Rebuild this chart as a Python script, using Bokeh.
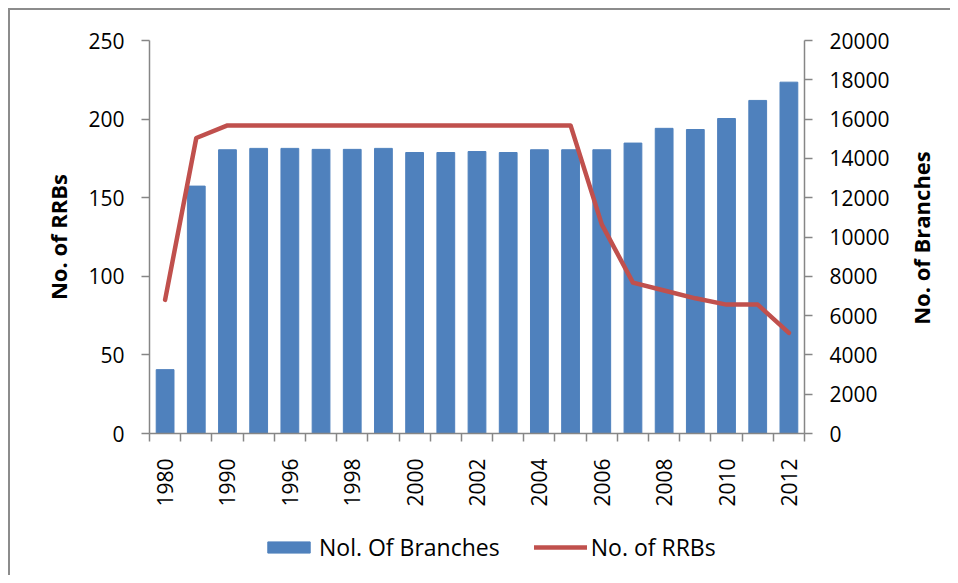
import math
import numpy as np
from bokeh.plotting import figure
from bokeh.layouts import column, row
from bokeh.models import (Range1d, LinearAxis, FixedTicker, SingleIntervalTicker,
                          Legend, ColumnDataSource, Label)
from bokeh.embed import file_html
from bokeh.resources import INLINE

years = ["1980", "1985", "1990", "1995", "1996", "1997", "1998", "1999", "2000", "2001",
         "2002", "2003", "2004", "2005", "2006", "2007", "2008", "2009", "2010", "2011", "2012"]
branches = [3250, 12590, 14440, 14510, 14510, 14460, 14460, 14510, 14300, 14300,
            14350, 14300, 14440, 14440, 14440, 14780, 15530, 15470, 16030, 16950, 17880]
rrbs = [85, 188, 196, 196, 196, 196, 196, 196, 196, 196,
        196, 196, 196, 196, 133, 96, 91, 86, 82, 82, 64]
left_ticks = [0, 50, 100, 150, 200, 250]
right_max = 20000

FONT = "Open Sans"
AX = "#868686"
BAR_C = "#4F81BD"
LINE_C = "#C0504D"

n = len(years)
xc = np.arange(n) + 0.5
src = ColumnDataSource(dict(x=xc, year=years, branches=branches, rrbs=rrbs))

FW, FH = 655, 393
ML, MR, MT, MB = 139, 96, 30, 80
PW, PH = ML + FW + MR, MT + FH + MB
TW = 50                      # strip holding the secondary-axis title
LH = 565 - PH                # strip holding the legend

p = figure(width=PW, height=PH, output_backend="svg", toolbar_location=None,
           x_range=Range1d(0, n), y_range=Range1d(0, left_ticks[-1]),
           frame_width=FW, frame_height=FH,
           min_border_left=ML, min_border_right=MR, min_border_top=MT, min_border_bottom=MB,
           x_axis_location=None, y_axis_location=None)
p.extra_y_ranges = {"right": Range1d(0, right_max)}
p.outline_line_color = None
p.xgrid.visible = False
p.ygrid.visible = False

bars = p.vbar(x="x", top="branches", width=0.57, source=src, y_range_name="right",
              fill_color=BAR_C, line_color=BAR_C)
line = p.line(x="x", y="rrbs", source=src, line_color=LINE_C, line_width=4.5,
              line_join="round", line_cap="round")

def style_axis(ax):
    ax.axis_line_color = AX
    ax.axis_line_width = 1.5
    ax.major_tick_line_color = AX
    ax.major_tick_line_width = 1.5
    ax.minor_tick_line_color = AX
    ax.minor_tick_line_width = 1.5
    ax.major_tick_in = 0
    ax.major_tick_out = 8
    ax.minor_tick_in = 0
    ax.minor_tick_out = 0
    ax.major_label_text_font = FONT
    ax.major_label_text_font_size = "21px"
    ax.major_label_text_color = "black"
    ax.axis_label_text_font = FONT
    ax.axis_label_text_font_size = "22px"
    ax.axis_label_text_font_style = "bold"
    ax.axis_label_text_color = "black"

# x axis: labels under every other bar, tick marks between categories
xax = LinearAxis(ticker=FixedTicker(ticks=list(xc[::2]), minor_ticks=list(range(n + 1))))
style_axis(xax)
xax.major_tick_out = 0
xax.minor_tick_out = 8
xax.major_label_standoff = 17
xax.major_label_orientation = math.pi / 2
xax.major_label_overrides = {float(v): years[i] for i, v in enumerate(xc) if i % 2 == 0}
p.add_layout(xax, "below")

lax = LinearAxis(ticker=FixedTicker(ticks=left_ticks), axis_label="No. of RRBs")
style_axis(lax)
lax.major_label_standoff = 17
lax.axis_label_standoff = 12
p.add_layout(lax, "left")

rax = LinearAxis(y_range_name="right", ticker=SingleIntervalTicker(interval=2000))
style_axis(rax)
rax.major_label_standoff = 17
p.add_layout(rax, "right")

def blank(w, h, xr=(0, 1)):
    f = figure(width=w, height=h, output_backend="svg", toolbar_location=None,
               x_axis_location=None, y_axis_location=None,
               x_range=Range1d(*xr), y_range=Range1d(0, 1),
               min_border_left=0, min_border_right=0, min_border_top=0, min_border_bottom=0)
    f.outline_line_color = None
    f.xgrid.visible = False
    f.ygrid.visible = False
    return f

# secondary axis title, reading bottom-to-top
tfig = blank(TW, PH)
tfig.add_layout(Label(x=20.5, y=PH - (MT + FH / 2) - 81, x_units="screen", y_units="screen",
                      text="No. of Branches", angle=math.pi / 2,
                      text_align="center", text_baseline="middle",
                      text_font=FONT, text_font_size="22px", text_font_style="bold",
                      text_color="black"))

# legend strip (renderers share the chart data but lie outside this strip's view)
lfig = blank(PW + TW, LH, xr=(-100, -99))
lb = lfig.vbar(x="x", top="branches", width=0.57, source=src,
               fill_color=BAR_C, line_color=BAR_C)
ll = lfig.line(x="x", y="rrbs", source=src, line_color=LINE_C, line_width=4.5,
               line_cap="round")
legend = Legend(items=[("Nol. Of Branches", [lb]), ("No. of RRBs", [ll])],
                orientation="horizontal", location=(252, LH - 34 - 15.5))
legend.label_text_font = FONT
legend.label_text_font_size = "23px"
legend.label_text_color = "black"
legend.glyph_width = 53
legend.glyph_height = 14
legend.label_standoff = 4
legend.spacing = 34
legend.border_line_color = None
legend.background_fill_alpha = 0
legend.margin = 0
legend.padding = 0
lfig.add_layout(legend, "center")

layout = column(row(p, tfig, spacing=0), lfig, spacing=0,
                styles={"border-left": "2px solid #8c8c8c", "border-top": "2px solid #8c8c8c",
                        "margin-left": "8px", "margin-top": "8px"})

open("out.html", "w").write(file_html(layout, INLINE))
